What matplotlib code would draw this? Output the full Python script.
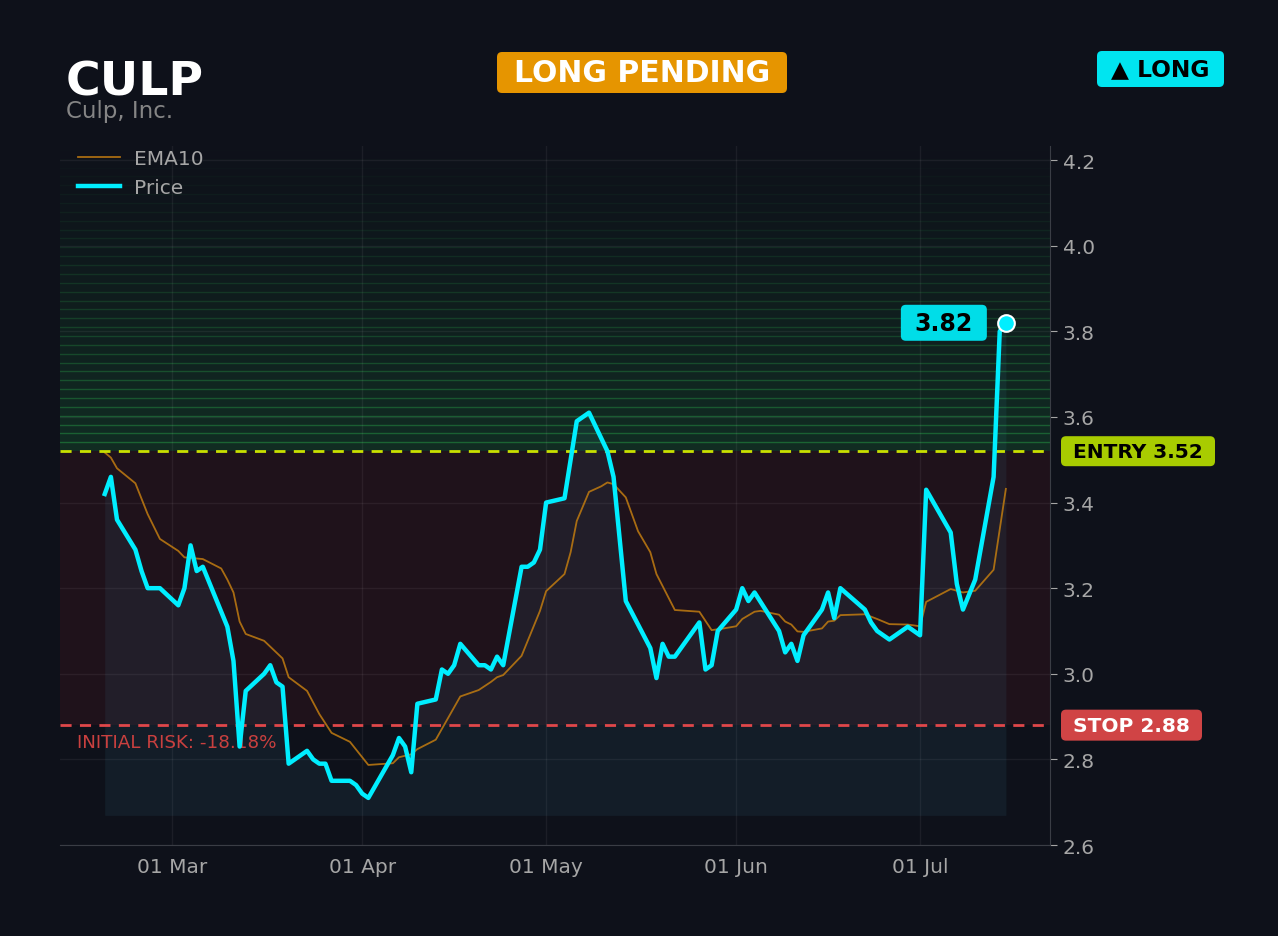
import numpy as np
import pandas as pd
import matplotlib
matplotlib.use("Agg")
from matplotlib import pyplot as plt
import matplotlib.dates as mdates
import matplotlib.transforms as mtransforms
from matplotlib.patches import FancyBboxPatch

# ---- data ----
ticker = "CULP"
company = "Culp, Inc."
entry = 3.52
stop = 2.88
last_price = 3.82

price_dates = ["2025-02-18", "2025-02-19", "2025-02-20", "2025-02-23", "2025-02-24",
               "2025-02-25", "2025-02-27", "2025-03-02", "2025-03-03", "2025-03-04",
               "2025-03-05", "2025-03-06", "2025-03-10", "2025-03-11", "2025-03-12",
               "2025-03-13", "2025-03-16", "2025-03-17", "2025-03-18", "2025-03-19",
               "2025-03-20", "2025-03-23", "2025-03-24", "2025-03-25", "2025-03-26",
               "2025-03-27", "2025-03-30", "2025-03-31", "2025-04-01", "2025-04-02",
               "2025-04-06", "2025-04-07", "2025-04-08", "2025-04-09", "2025-04-10",
               "2025-04-13", "2025-04-14", "2025-04-15", "2025-04-16", "2025-04-17",
               "2025-04-20", "2025-04-21", "2025-04-22", "2025-04-23", "2025-04-24",
               "2025-04-27", "2025-04-28", "2025-04-29", "2025-04-30", "2025-05-01",
               "2025-05-04", "2025-05-05", "2025-05-06", "2025-05-08", "2025-05-11",
               "2025-05-12", "2025-05-14", "2025-05-18", "2025-05-19", "2025-05-20",
               "2025-05-21", "2025-05-22", "2025-05-26", "2025-05-27", "2025-05-28",
               "2025-05-29", "2025-06-01", "2025-06-02", "2025-06-03", "2025-06-04",
               "2025-06-08", "2025-06-09", "2025-06-10", "2025-06-11", "2025-06-12",
               "2025-06-15", "2025-06-16", "2025-06-17", "2025-06-18", "2025-06-22",
               "2025-06-23", "2025-06-24", "2025-06-26", "2025-06-29", "2025-07-01",
               "2025-07-02", "2025-07-06", "2025-07-07", "2025-07-08", "2025-07-10",
               "2025-07-13", "2025-07-14", "2025-07-15"]
price = [3.42, 3.46, 3.36, 3.29, 3.24, 3.20, 3.20, 3.16, 3.20, 3.30,
         3.24, 3.25, 3.11, 3.03, 2.83, 2.96, 3.00, 3.02, 2.98, 2.97,
         2.79, 2.82, 2.80, 2.79, 2.79, 2.75, 2.75, 2.74, 2.72, 2.71,
         2.81, 2.85, 2.83, 2.77, 2.93, 2.94, 3.01, 3.00, 3.02, 3.07,
         3.02, 3.02, 3.01, 3.04, 3.02, 3.25, 3.25, 3.26, 3.29, 3.40,
         3.41, 3.50, 3.59, 3.61, 3.52, 3.46, 3.17, 3.06, 2.99, 3.07,
         3.04, 3.04, 3.12, 3.01, 3.02, 3.10, 3.15, 3.20, 3.17, 3.19,
         3.10, 3.05, 3.07, 3.03, 3.09, 3.15, 3.19, 3.13, 3.20, 3.15,
         3.12, 3.10, 3.08, 3.11, 3.09, 3.43, 3.33, 3.21, 3.15, 3.22,
         3.46, 3.80, 3.82]

ema_dates = ["2025-02-18", "2025-02-19", "2025-02-20", "2025-02-23", "2025-02-25",
             "2025-02-27", "2025-03-02", "2025-03-03", "2025-03-06", "2025-03-09",
             "2025-03-10", "2025-03-11", "2025-03-12", "2025-03-13", "2025-03-16",
             "2025-03-19", "2025-03-20", "2025-03-23", "2025-03-25", "2025-03-27",
             "2025-03-30", "2025-04-02", "2025-04-06", "2025-04-07", "2025-04-09",
             "2025-04-10", "2025-04-13", "2025-04-17", "2025-04-20", "2025-04-22",
             "2025-04-23", "2025-04-24", "2025-04-27", "2025-04-28", "2025-04-30",
             "2025-05-01", "2025-05-04", "2025-05-05", "2025-05-06", "2025-05-08",
             "2025-05-10", "2025-05-11", "2025-05-12", "2025-05-14", "2025-05-16",
             "2025-05-18", "2025-05-19", "2025-05-22", "2025-05-26", "2025-05-28",
             "2025-05-30", "2025-06-01", "2025-06-02", "2025-06-04", "2025-06-05",
             "2025-06-08", "2025-06-09", "2025-06-10", "2025-06-11", "2025-06-12",
             "2025-06-15", "2025-06-16", "2025-06-17", "2025-06-18", "2025-06-22",
             "2025-06-24", "2025-06-26", "2025-06-29", "2025-07-01", "2025-07-02",
             "2025-07-06", "2025-07-08", "2025-07-10", "2025-07-13", "2025-07-15"]
ema10 = [3.517, 3.505, 3.480, 3.445, 3.373, 3.315, 3.287, 3.272, 3.268, 3.246,
         3.220, 3.190, 3.122, 3.093, 3.077, 3.036, 2.992, 2.960, 2.906, 2.862,
         2.841, 2.787, 2.791, 2.805, 2.812, 2.824, 2.846, 2.947, 2.962, 2.981,
         2.992, 2.997, 3.042, 3.077, 3.147, 3.193, 3.233, 3.284, 3.357, 3.425,
         3.438, 3.447, 3.443, 3.412, 3.333, 3.284, 3.233, 3.149, 3.145, 3.102,
         3.106, 3.111, 3.128, 3.145, 3.147, 3.138, 3.122, 3.115, 3.099, 3.098,
         3.106, 3.122, 3.124, 3.137, 3.139, 3.128, 3.116, 3.115, 3.111, 3.168,
         3.198, 3.190, 3.194, 3.243, 3.432]

yticks = [2.6, 2.8, 3.0, 3.2, 3.4, 3.6, 3.8, 4.0, 4.2]

# ---- style ----
W, H = 1278, 937
BG = "#0e111a"
CYAN = "#00eeff"
TXT = "#a6a6a6"

px = pd.to_datetime(price_dates)
ex = pd.to_datetime(ema_dates)

fig = plt.figure(figsize=(W / 100, H / 100), dpi=100, facecolor=BG)
ax = fig.add_axes([60 / W, 1 - 846 / H, 990 / W, 699 / H])
ax.set_facecolor(BG)


def badge(cx, cy, w, h, fc, r=5):
    # rounded box in pixel coords (origin bottom-left)
    p = FancyBboxPatch((cx - w / 2, cy - h / 2), w, h,
                       boxstyle=f"round,pad=0,rounding_size={r}",
                       transform=mtransforms.IdentityTransform(),
                       fc=fc, ec="none", zorder=2)
    fig.add_artist(p)


# target zone gradient above entry
target = entry * 1.2
n = 34
edges = np.linspace(entry, target, n + 1)
for i in range(n):
    a = 0.18 * (1 - i / n) ** 1.2
    ax.axhspan(edges[i], edges[i + 1], color="#1fa84a", alpha=a, lw=0, zorder=0)
    ax.axhline(edges[i + 1], color="#2bb34d", alpha=min(1, a * 2.3), lw=1.0, zorder=0)

# risk zone
ax.axhspan(stop, entry, color="#ff2433", alpha=0.075, lw=0, zorder=0)

# area under price
base = min(price) * 0.985
ax.fill_between(px, price, base, color="#55c8e8", alpha=0.07, lw=0, zorder=1)

ax.plot(ex, ema10, color="#b87611", lw=1.3, alpha=0.9, label="EMA10", zorder=3)
ax.plot(px, price, color=CYAN, lw=3.2, label="Price", zorder=4)
ax.plot(px[-1], price[-1], "o", ms=12, color=CYAN, mec="white", mew=1.5, zorder=5)

ax.axhline(entry, color="#c8e000", lw=2, ls=(0, (4, 3)), zorder=3)
ax.axhline(stop, color="#e0474a", lw=2, ls=(0, (4, 3)), zorder=3)

trans = mtransforms.blended_transform_factory(ax.transAxes, ax.transData)
risk = (stop - entry) / entry * 100
ax.text(17 / 990, stop - 0.04, f"INITIAL RISK: {risk:.2f}%", transform=trans,
        ha="left", va="center", fontsize=13.2, color="#c9403f")

# axes cosmetics
ax.set_ylim(2.6, 4.233)
ax.set_xlim(pd.Timestamp("2025-03-01") - pd.Timedelta(days=18.3),
            pd.Timestamp("2025-03-01") + pd.Timedelta(days=143.2))
ax.yaxis.tick_right()
ax.set_yticks(yticks)
ax.yaxis.set_major_formatter(matplotlib.ticker.FormatStrFormatter("%.1f"))
ax.xaxis.set_major_locator(mdates.MonthLocator())
ax.xaxis.set_major_formatter(mdates.DateFormatter("%d %b"))
ax.tick_params(colors=TXT, labelsize=14.5, length=5, pad=4)
ax.tick_params(axis="x", length=0, pad=9)
ax.grid(True, color="white", alpha=0.06, lw=1)
ax.set_axisbelow(True)
for s in ["left", "top"]:
    ax.spines[s].set_visible(False)
for s in ["right", "bottom"]:
    ax.spines[s].set_color("#3a3d45")

ax.legend(loc="upper left", bbox_to_anchor=(0.018, 0.995), frameon=False,
          fontsize=14.5, labelcolor=TXT, borderaxespad=0, borderpad=0,
          handlelength=2.1, handletextpad=0.7, labelspacing=0.45)

# last price tag
lx, ly = ax.transData.transform((mdates.date2num(px[-1]), price[-1]))
badge(lx - 62, ly, 86, 36, "#00dde8", r=5)
fig.text((lx - 62) / W, ly / H, f"{last_price:.2f}", color="black", fontsize=17,
         fontweight="bold", ha="center", va="center", zorder=3)

# entry / stop tags on the right
_, ey = ax.transData.transform((0, entry))
_, sy = ax.transData.transform((0, stop))
badge(1138, ey, 154, 30, "#a8cc00", r=5)
fig.text(1138 / W, ey / H, f"ENTRY {entry:.2f}", color="black", fontsize=14.5,
         fontweight="bold", ha="center", va="center", zorder=3)
badge(1131.5, sy, 141, 31, "#d04445", r=5)
fig.text(1131.5 / W, sy / H, f"STOP {stop:.2f}", color="white", fontsize=14.5,
         fontweight="bold", ha="center", va="center", zorder=3)

# header
fig.text(66 / W, 1 - 95 / H, ticker, color="white", fontsize=34,
         fontweight="bold", va="baseline", ha="left")
fig.text(66 / W, 1 - 118 / H, company, color="#858585", fontsize=16.5,
         va="baseline", ha="left")
badge(642, H - 73.5, 290, 41, "#e69500", r=5)
fig.text(642 / W, 1 - 73.5 / H, "LONG PENDING", color="white", fontsize=21.5,
         fontweight="bold", ha="center", va="center", zorder=3)
badge(1160.5, H - 70, 127, 36, "#00e5f0", r=5)
fig.text(1160.5 / W, 1 - 70 / H, "▲ LONG", color="black", fontsize=16.8,
         fontweight="bold", ha="center", va="center", zorder=3)

fig.savefig("out.png", dpi=100, facecolor=BG)
